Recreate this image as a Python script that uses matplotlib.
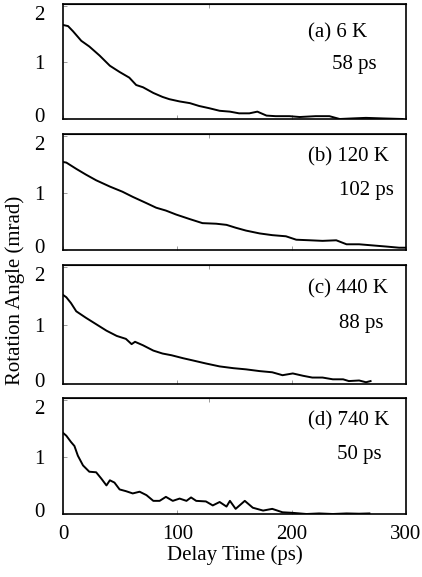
import matplotlib
matplotlib.use('Agg')
import matplotlib.pyplot as plt
from matplotlib import rcParams
from matplotlib.transforms import ScaledTranslation

rcParams['font.family'] = 'Liberation Serif'
rcParams['font.size'] = 15

# delay time (ps) and rotation angle (mrad)
t_a = [0, 4.4, 8.7, 16, 23, 32, 41, 49.5, 58, 64, 70, 79, 87, 93, 102, 111, 119, 128, 137, 146,
       154, 163, 170, 178, 186, 198, 207, 221, 233, 242, 253, 265, 280, 297]
r_a = [1.66, 1.64, 1.55, 1.38, 1.28, 1.12, 0.94, 0.83, 0.73, 0.60, 0.56, 0.46, 0.39, 0.35, 0.31, 0.28,
       0.23, 0.19, 0.145, 0.13, 0.10, 0.10, 0.13, 0.06, 0.05, 0.05, 0.035, 0.05, 0.05, 0.0, 0.01, 0.02,
       0.01, 0.0]

t_b = [0, 2.9, 11.6, 20, 29, 41, 52, 61, 73, 81.5, 90, 99, 111, 122, 134, 143, 151, 160, 172, 183,
       195, 204, 216, 227, 239, 248, 259, 271, 283, 294, 300]
r_b = [1.54, 1.53, 1.42, 1.32, 1.22, 1.11, 1.02, 0.93, 0.82, 0.74, 0.69, 0.62, 0.54, 0.47, 0.46, 0.44,
       0.39, 0.34, 0.29, 0.26, 0.24, 0.18, 0.17, 0.16, 0.17, 0.10, 0.10, 0.08, 0.06, 0.04, 0.04]

t_c = [0, 2.9, 7, 11.6, 20, 29, 38, 47, 55, 60, 63, 70, 79, 87, 95, 105, 114, 125, 137, 149, 160,
       172, 183, 192, 201, 210, 218, 227, 236, 245, 250, 259, 265, 269]
r_c = [1.52, 1.48, 1.38, 1.24, 1.13, 1.02, 0.91, 0.82, 0.77, 0.68, 0.72, 0.66, 0.57, 0.52, 0.49, 0.44,
       0.40, 0.35, 0.30, 0.27, 0.25, 0.22, 0.20, 0.15, 0.18, 0.14, 0.11, 0.11, 0.08, 0.08, 0.05, 0.06,
       0.03, 0.05]

t_d = [0, 2.9, 7, 10, 13, 17.5, 23, 29, 33.5, 38, 41, 45, 49.5, 55, 61, 67, 73, 79, 84.5, 90, 96,
       102, 108, 112, 116.5, 125, 131, 137, 143, 146, 151, 159, 166, 175, 183, 192, 201, 213, 224,
       236, 248, 259, 268]
r_d = [1.42, 1.37, 1.26, 1.19, 1.02, 0.85, 0.74, 0.73, 0.62, 0.50, 0.59, 0.55, 0.43, 0.40, 0.36, 0.39,
       0.33, 0.23, 0.23, 0.30, 0.23, 0.27, 0.23, 0.29, 0.23, 0.22, 0.15, 0.21, 0.13, 0.23, 0.09, 0.23,
       0.11, 0.06, 0.09, 0.03, 0.02, 0.0, 0.01, 0.0, 0.01, 0.005, 0.01]

series = [(t_a, r_a), (t_b, r_b), (t_c, r_c), (t_d, r_d)]
labels = ['(a) 6 K', '(b) 120 K', '(c) 440 K', '(d) 740 K']
taus = ['58 ps', '102 ps', '88 ps', '50 ps']

W, H = 422, 577
# panel top/bottom in pixels
panels = [(4, 119), (134, 250), (265, 384), (398, 514)]
left, right = 63, 406
lab_y = [(0.75, 0.47), (0.80, 0.51), (0.80, 0.51), (0.80, 0.51)]
tau_x = [0.785, 0.805, 0.805, 0.80]
ylab_shift = [3.0, 0.0, -5.5]  # points, for the 0, 1, 2 labels

fig = plt.figure(figsize=(W / 100, H / 100), dpi=100)
axes = []
for i, (top, bot) in enumerate(panels):
    ax = fig.add_axes([left / W, 1 - bot / H, (right - left) / W, (bot - top) / H])
    t, r = series[i]
    ax.plot(t, r, color='black', lw=1.4)
    ax.set_xlim(0, 300)
    ax.set_ylim(0, 2.03)
    ax.set_xticks([0, 100, 200, 300])
    ax.set_yticks([0, 1, 2])
    ax.set_yticklabels(['0', '1', '2'])
    ax.tick_params(direction='in', length=3, width=0.6, color='0.55', pad=13)
    ax.tick_params(axis='x', pad=8)
    for s in ax.spines.values():
        s.set_linewidth(1.2)
    if i < 3:
        ax.set_xticklabels([])
    for lbl, dy in zip(ax.get_yticklabels(), ylab_shift):
        lbl.set_transform(lbl.get_transform() + ScaledTranslation(0, dy / 72, fig.dpi_scale_trans))
    sec = ax.secondary_xaxis('top')
    sec.set_xticks([128])
    sec.set_xticklabels([])
    sec.tick_params(direction='in', length=3, width=0.6, color='0.55')
    ax.text(0.715, lab_y[i][0], labels[i], transform=ax.transAxes, va='center', ha='left')
    ax.text(tau_x[i], lab_y[i][1], taus[i], transform=ax.transAxes, va='center', ha='left')
    axes.append(ax)

axes[-1].set_xlabel('Delay Time (ps)', labelpad=1)
fig.text(15 / W, 1 - 290 / H, 'Rotation Angle (mrad)', rotation=90, va='center', ha='center')

plt.savefig('out.png', dpi=100)
